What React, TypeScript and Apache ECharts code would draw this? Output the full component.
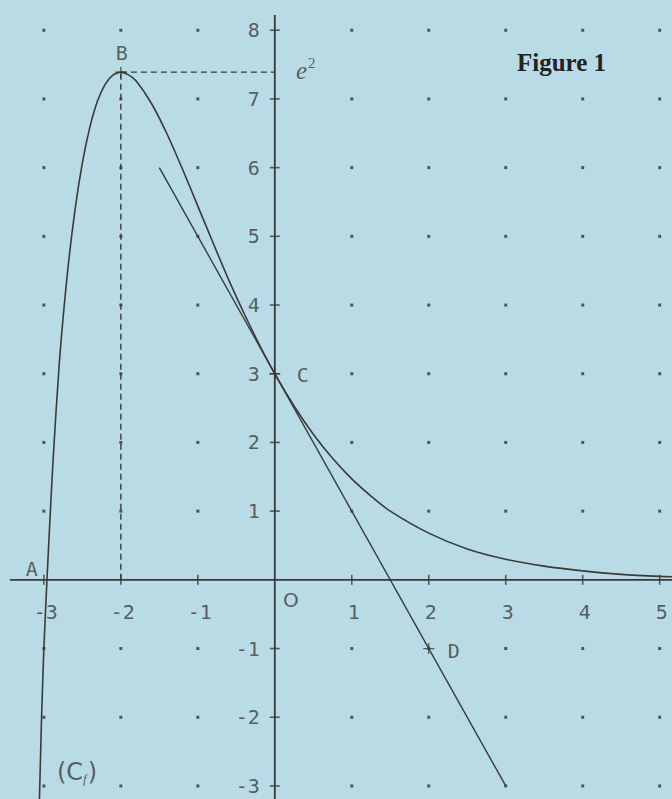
import React, { useEffect, useRef } from "react";
import * as echarts from "echarts";

// Curve (C_f) values
const curveX = [-3.06, -3.03, -3.0, -2.96, -2.92, -2.88, -2.8, -2.7, -2.6, -2.5, -2.4, -2.3, -2.2, -2.1, -2, -1.9, -1.8, -1.6, -1.4, -1.2, -1, -0.8, -0.6, -0.4, -0.2, 0, 0.25, 0.5, 0.75, 1, 1.25, 1.5, 2, 2.5, 3, 3.5, 4, 4.5, 5, 5.2];
const curveY = [-3.3, -2.0, -1.0, 0, 0.9, 1.75, 3.15, 4.4, 5.35, 6.07, 6.6, 6.98, 7.22, 7.35, 7.39, 7.35, 7.26, 6.93, 6.49, 5.98, 5.44, 4.9, 4.37, 3.88, 3.42, 3, 2.53, 2.12, 1.77, 1.47, 1.22, 1.0, 0.68, 0.45, 0.3, 0.2, 0.13, 0.08, 0.05, 0.045];

// Tangent line at C
const tangentX = [-1.5, 3];
const tangentY = [6, -3];

// Axis ticks / labels
const xTicks = [-3, -2, -1, 1, 2, 3, 4, 5];
const yTicks = [-3, -2, -1, 1, 2, 3, 4, 5, 6, 7, 8];
const gridXs = [-3, -2, -1, 1, 2, 3, 4, 5];
const gridYs = [-3, -2, -1, 1, 2, 3, 4, 5, 6, 7, 8];

// Named points
const pA = [-3, 0];
const pB = [-2, 7.39];
const pC = [0, 3];
const pD = [2, -1];
const eSquared = 7.39;

const X_MIN = -3.57, X_MAX = 5.16, Y_MIN = -3.19, Y_MAX = 8.44;
const AXIS_X_START = -3.44, AXIS_Y_TOP = 8.22;

const INK = "#3a3a3a";
const TXT = "#3c3c3c";
const MONO = "DejaVu Sans Mono";
const PLUS = "path://M0,4.4H10V5.6H0Z M4.4,0H5.6V10H4.4Z";

export default function App() {
  const ref = useRef<HTMLDivElement>(null);
  useEffect(() => {
    document.body.style.margin = "0";
    const chart = echarts.init(ref.current!, null, { renderer: "svg" });
    const dots: number[][] = [];
    gridXs.forEach((x) => gridYs.forEach((y) => dots.push([x, y])));
    const lbl = (text: string, offset: number[], extra: any = {}) => ({
      show: true,
      position: "inside",
      formatter: text,
      offset,
      color: TXT,
      fontFamily: MONO,
      fontSize: 20,
      ...extra,
    });
    chart.setOption({
      animation: false,
      backgroundColor: "#b8dbe5",
      title: {
        text: "Figure 1",
        left: 512,
        top: 45,
        textStyle: { fontFamily: "Liberation Serif", fontWeight: "bold", fontSize: 25, color: "#222" },
      },
      grid: { left: 0, right: 0, top: 0, bottom: 0 },
      xAxis: { type: "value", min: X_MIN, max: X_MAX, show: false },
      yAxis: { type: "value", min: Y_MIN, max: Y_MAX, show: false },
      series: [
        {
          type: "scatter",
          data: dots,
          symbol: "rect",
          symbolSize: 3,
          itemStyle: { color: "#333" },
          silent: true,
        },
        {
          type: "line",
          data: [[AXIS_X_START, 0], [X_MAX, 0]],
          symbol: "none",
          lineStyle: { color: INK, width: 1.8 },
        },
        {
          type: "line",
          data: [[0, Y_MIN], [0, AXIS_Y_TOP]],
          symbol: "none",
          lineStyle: { color: INK, width: 1.8 },
        },
        {
          type: "line",
          data: [[pB[0], 0], pB],
          symbol: "none",
          lineStyle: { color: INK, width: 1.4, type: [6, 4] },
        },
        {
          type: "line",
          data: [pB, [0, eSquared]],
          symbol: "none",
          lineStyle: { color: INK, width: 1.4, type: [6, 4] },
        },
        {
          type: "line",
          data: curveX.map((x, i) => [x, curveY[i]]),
          symbol: "none",
          smooth: 0.25,
          lineStyle: { color: INK, width: 1.6 },
        },
        {
          type: "line",
          data: tangentX.map((x, i) => [x, tangentY[i]]),
          symbol: "none",
          lineStyle: { color: INK, width: 1.4 },
        },
        {
          type: "scatter",
          data: xTicks.map((x) => ({ value: [x, 0], label: lbl(String(x), [2, 32]) })),
          symbol: "rect",
          symbolSize: [1.6, 10],
          itemStyle: { color: INK },
        },
        {
          type: "scatter",
          data: yTicks.map((y) => ({ value: [0, y], label: lbl(String(y), [-15, 0], { align: "right" }) })),
          symbol: "rect",
          symbolSize: [10, 1.6],
          itemStyle: { color: INK },
        },
        {
          type: "scatter",
          symbol: PLUS,
          symbolSize: 11,
          itemStyle: { color: INK },
          data: [
            { value: pB, label: lbl("B", [1, -19]) },
            { value: pC, label: lbl("C", [28, 1]) },
            { value: pD, label: lbl("D", [25, 2]) },
          ],
        },
        {
          type: "scatter",
          symbolSize: 0,
          data: [
            { value: pA, label: lbl("A", [-12, -11]) },
            { value: [0, 0], label: lbl("O", [16, 20], { fontFamily: "DejaVu Sans" }) },
            {
              value: [0, eSquared],
              label: {
                show: true,
                position: "inside",
                offset: [31, -2],
                formatter: "{e|e}{s|2}",
                rich: {
                  e: { fontFamily: "Liberation Serif", fontStyle: "italic", fontSize: 25, color: TXT, lineHeight: 28 },
                  s: { fontFamily: "Liberation Serif", fontSize: 15, color: TXT, padding: [0, 0, 14, 1] },
                },
              },
            },
            {
              value: [-2.57, -2.8],
              label: {
                show: true,
                position: "inside",
                formatter: "{p|(C}{s|f}{p|)}",
                rich: {
                  p: { fontFamily: "DejaVu Sans", fontSize: 24, color: TXT, lineHeight: 30 },
                  s: { fontFamily: "Liberation Serif", fontStyle: "italic", fontSize: 13, color: TXT, padding: [12, 1, 0, 0] },
                },
              },
            },
          ],
        },
      ],
    });
    return () => chart.dispose();
  }, []);
  return <div ref={ref} style={{ position: "absolute", left: 0, top: 0, width: 672, height: 799 }} />;
}
